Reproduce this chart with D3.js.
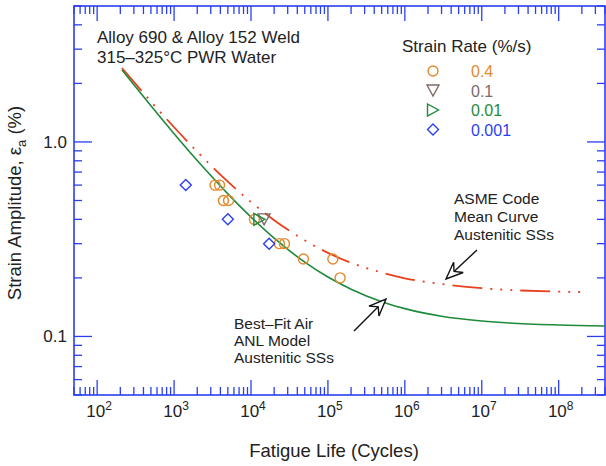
<!DOCTYPE html>
<html>
<head>
<meta charset="utf-8">
<script src="https://cdn.jsdelivr.net/npm/d3@7"></script>
<style>
body { margin: 0; background: #fff; }
text { font-family: "Liberation Sans", Arial, sans-serif; fill: #222; }
</style>
</head>
<body>
<svg width="606" height="466"></svg>
<script>
// data
var anlN = [210, 300, 500, 1e3, 2e3, 3e3, 5e3, 1e4, 2e4, 5e4, 1e5, 2e5, 5e5, 1e6, 3e6, 1e7, 1e8, 4e8];
var anlE = [2.347, 1.968, 1.534, 1.103, 0.803, 0.672, 0.541, 0.411, 0.320, 0.241, 0.202, 0.175, 0.151, 0.139, 0.127, 0.120, 0.1145, 0.1132];
var asmeN = [210, 300, 500, 1e3, 2e3, 3e3, 5e3, 1e4, 2e4, 5e4, 1e5, 2e5, 5e5, 1e6, 3e6, 1e7, 1e8, 2.3e8];
var asmeE = [2.400, 2.035, 1.614, 1.190, 0.891, 0.758, 0.625, 0.491, 0.396, 0.312, 0.269, 0.239, 0.213, 0.199, 0.186, 0.177, 0.170, 0.169];

var rate04N = [3410, 3900, 4380, 5110, 11070, 23400, 27200, 48000, 115900, 144000];
var rate04E = [0.60, 0.60, 0.50, 0.50, 0.40, 0.30, 0.30, 0.25, 0.25, 0.20];
var rate01N = [14800];
var rate01E = [0.40];
var rate001N = [12850];
var rate001E = [0.40];
var rate0001N = [1420, 5000, 17200];
var rate0001E = [0.60, 0.40, 0.30];

var legendLabels = ["0.4", "0.1", "0.01", "0.001"];
var xTicks = [1e2, 1e3, 1e4, 1e5, 1e6, 1e7, 1e8];
var yTicks = [0.1, 1.0];
var yTickLabels = ["0.1", "1.0"];

var axisColor = "#2b3ff0";
var colors = {c04: "#e28a2e", c01: "#7d6b67", c001: "#1f8a3c", c0001: "#2b3ff0"};

var svg = d3.select("svg");
var box = {left: 74, right: 605, top: 6, bottom: 395};

var x = d3.scaleLog().domain([50, 4e8]).range([box.left, box.right]);
var y = d3.scaleLog().domain([0.05, 5]).range([box.bottom, box.top]);

// minor ticks
var xMinor = [];
for (var e = 1; e <= 8; e++) for (var m = 2; m <= 9; m++) {
    var v = m * Math.pow(10, e);
    if (v >= 50 && v <= 4e8) xMinor.push(v);
}
var yMinor = [];
for (var e2 = -2; e2 <= 0; e2++) for (var m2 = 2; m2 <= 9; m2++) {
    var v2 = m2 * Math.pow(10, e2);
    if (v2 >= 0.05 && v2 <= 5.01) yMinor.push(v2);
}

var ax = svg.append("g").attr("stroke", axisColor).attr("stroke-width", 1.3);
function tickSet(vals, len) {
    vals.forEach(function(v) {
        ax.append("line").attr("x1", x(v)).attr("x2", x(v)).attr("y1", box.bottom).attr("y2", box.bottom - len);
        ax.append("line").attr("x1", x(v)).attr("x2", x(v)).attr("y1", box.top).attr("y2", box.top + len);
    });
}
function tickSetY(vals, len) {
    vals.forEach(function(v) {
        ax.append("line").attr("y1", y(v)).attr("y2", y(v)).attr("x1", box.left).attr("x2", box.left + len);
        ax.append("line").attr("y1", y(v)).attr("y2", y(v)).attr("x1", box.right).attr("x2", box.right - len);
    });
}
tickSet(xMinor, 8);
tickSet(xTicks, 15);
tickSetY(yMinor, 8);
tickSetY(yTicks, 18);
ax.append("rect").attr("x", box.left).attr("y", box.top)
    .attr("width", box.right - box.left).attr("height", box.bottom - box.top)
    .attr("fill", "none").attr("stroke-width", 1.6);

// tick labels
xTicks.forEach(function(v) {
    var t = svg.append("text").attr("x", x(v) + 2).attr("y", 417)
        .attr("text-anchor", "middle").style("font-size", "17px");
    t.append("tspan").text("10");
    t.append("tspan").attr("dy", -7).style("font-size", "12px").text(Math.round(Math.log10(v)));
});
yTicks.forEach(function(v, i) {
    svg.append("text").attr("x", 67).attr("y", y(v) + 6)
        .attr("text-anchor", "end").style("font-size", "17px").text(yTickLabels[i]);
});

// axis titles
svg.append("text").attr("x", 334).attr("y", 457).attr("text-anchor", "middle")
    .style("font-size", "18.5px").text("Fatigue Life (Cycles)");
var yt = svg.append("text").attr("transform", "translate(21,203) rotate(-90)")
    .attr("text-anchor", "middle").style("font-size", "18.5px");
yt.append("tspan").text("Strain Amplitude,  ε");
yt.append("tspan").attr("dy", 5).style("font-size", "13px").text("a");
yt.append("tspan").attr("dy", -5).text(" (%)");

// curves
var line = d3.line().x(function(d) { return x(d[0]); }).y(function(d) { return y(d[1]); })
    .curve(d3.curveMonotoneX);
svg.append("path").datum(asmeN.map(function(n, i) { return [n, asmeE[i]]; }))
    .attr("d", line).attr("fill", "none").attr("stroke", "#e8401f").attr("stroke-width", 1.8)
    .attr("stroke-dasharray", "30,8,2,8,2,8,2,8");
svg.append("path").datum(anlN.map(function(n, i) { return [n, anlE[i]]; }))
    .attr("d", line).attr("fill", "none").attr("stroke", "#1f8a3c").attr("stroke-width", 1.6);

// markers
var sym = {
    circle: "M5,0A5,5 0 1,1 -5,0A5,5 0 1,1 5,0Z",
    down: "M-6,-5.5L6,-5.5L0,5.5Z",
    right: "M-5.5,-6L5.5,0L-5.5,6Z",
    diamond: "M0,-5.5L5.5,0L0,5.5L-5.5,0Z"
};
function drawPoints(ns, es, shape, color) {
    svg.append("g").selectAll("path").data(ns).enter().append("path")
        .attr("transform", function(d, i) { return "translate(" + x(d) + "," + y(es[i]) + ")"; })
        .attr("d", sym[shape]).attr("fill", "none").attr("stroke", color).attr("stroke-width", 1.4);
}
drawPoints(rate04N, rate04E, "circle", colors.c04);
drawPoints(rate01N, rate01E, "down", colors.c01);
drawPoints(rate001N, rate001E, "right", colors.c001);
drawPoints(rate0001N, rate0001E, "diamond", colors.c0001);

// header text
svg.append("text").attr("x", 97).attr("y", 43).style("font-size", "17px").text("Alloy 690 & Alloy 152 Weld");
svg.append("text").attr("x", 97).attr("y", 63).style("font-size", "17px").text("315–325°C PWR Water");

// legend
svg.append("text").attr("x", 402).attr("y", 52).style("font-size", "17px").text("Strain Rate (%/s)");
var legShapes = ["circle", "down", "right", "diamond"];
var legColors = [colors.c04, colors.c01, colors.c001, colors.c0001];
legendLabels.forEach(function(l, i) {
    var ly = 71 + i * 19.5;
    svg.append("path").attr("transform", "translate(433," + ly + ")").attr("d", sym[legShapes[i]])
        .attr("fill", "none").attr("stroke", legColors[i]).attr("stroke-width", 1.4);
    svg.append("text").attr("x", 471).attr("y", ly + 6).style("font-size", "16px")
        .style("fill", legColors[i]).text(l);
});

// annotations
function noteLines(lines, x0, y0, dy) {
    lines.forEach(function(s, i) {
        svg.append("text").attr("x", x0).attr("y", y0 + i * dy).style("font-size", "15.5px").text(s);
    });
}
noteLines(["ASME Code", "Mean Curve", "Austenitic SSs"], 454, 204, 18);
noteLines(["Best–Fit Air", "ANL Model", "Austenitic SSs"], 234, 329, 17);

function arrow(tx, ty, px, py) {
    var dx = px - tx, dy = py - ty, len = Math.sqrt(dx * dx + dy * dy);
    var ux = dx / len, uy = dy / len, nx = -uy, ny = ux;
    var L = 17, W = 7, N = 11;
    var bx = px - L * ux, by = py - L * uy;
    var cx = px - N * ux, cy = py - N * uy;
    svg.append("line").attr("x1", tx).attr("y1", ty).attr("x2", cx).attr("y2", cy)
        .attr("stroke", "#111").attr("stroke-width", 1.4);
    svg.append("path").attr("d", "M" + px + "," + py + "L" + (bx + W * nx) + "," + (by + W * ny) +
        "L" + cx + "," + cy + "L" + (bx - W * nx) + "," + (by - W * ny) + "Z")
        .attr("fill", "#fff").attr("stroke", "#111").attr("stroke-width", 1.4).attr("stroke-linejoin", "miter");
}
arrow(477, 250, 446, 279);
arrow(354, 331, 386, 299);
</script>
</body>
</html>
